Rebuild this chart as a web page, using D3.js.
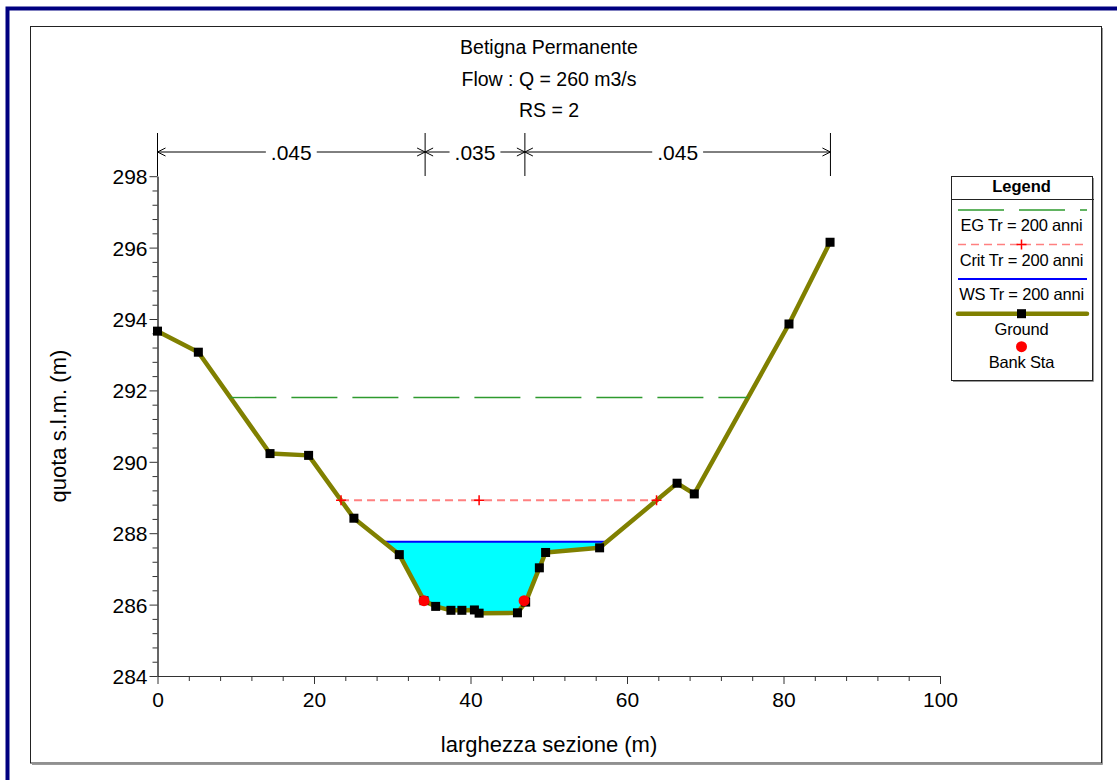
<!DOCTYPE html>
<html>
<head>
<meta charset="utf-8">
<script src="https://cdn.jsdelivr.net/npm/d3@7"></script>
<style>
  html, body { margin: 0; padding: 0; background: #fff; }
  svg { display: block; }
  text { font-family: "Liberation Sans", Arial, sans-serif; fill: #000; }
</style>
</head>
<body>
<svg id="chart" width="1117" height="780"></svg>
<script>
// ---------------- DATA ----------------
const titleLines = ["Betigna Permanente", "Flow : Q = 260 m3/s", "RS = 2"];
const xLabel = "larghezza sezione (m)";
const yLabel = "quota s.l.m. (m)";

const groundStations = [0, 5.22, 14.38, 19.31, 25.1, 30.9, 34.06, 35.55, 37.5, 38.9, 40.5, 41.1, 46.0, 47.05, 48.8, 49.6, 56.5, 66.4, 68.6, 80.7, 85.95];
const groundElevations = [293.66, 293.07, 290.23, 290.18, 288.42, 287.40, 286.11, 285.95, 285.84, 285.84, 285.85, 285.76, 285.77, 286.07, 287.03, 287.46, 287.59, 289.40, 289.10, 293.86, 296.15];

const bankStations = [34.06, 46.85];
const bankElevations = [286.11, 286.11];

const wsElevation = 287.76;    // WS Tr = 200 anni
const egElevation = 291.80;    // EG Tr = 200 anni
const critElevation = 288.92;  // Crit Tr = 200 anni

const manningValues = [".045", ".035", ".045"];
const manningBounds = [0, 34.2, 46.95, 86.0];

const xTicks = [0, 20, 40, 60, 80, 100];
const yTicks = [284, 286, 288, 290, 292, 294, 296, 298];

const legendItems = ["EG Tr = 200 anni", "Crit Tr = 200 anni", "WS Tr = 200 anni", "Ground", "Bank Sta"];

// ---------------- SETUP ----------------
const svg = d3.select("#chart");
svg.append("rect").attr("width", 1117).attr("height", 780).attr("fill", "#fff");

// outer blue frame (top + left)
svg.append("path")
  .attr("d", "M7.5,780 L7.5,8.5 L1117,8.5")
  .attr("fill", "none").attr("stroke", "#000080").attr("stroke-width", 4);

// inner frame with shadow
svg.append("path").attr("d", "M32,764.5 L1102.5,764.5 L1102.5,28")
  .attr("fill", "none").attr("stroke", "#9a9a9a").attr("stroke-width", 1);
svg.append("rect").attr("x", 30.5).attr("y", 26.5).attr("width", 1071).attr("height", 736.5)
  .attr("fill", "none").attr("stroke", "#222").attr("stroke-width", 1);

const x = d3.scaleLinear().domain([0, 100]).range([157.5, 940]);
const y = d3.scaleLinear().domain([284, 298]).range([676, 176.2]);

const ground = groundStations.map((s, i) => ({ s, z: groundElevations[i] }));

// intersections of a horizontal level with the ground, walking out from thalweg
function levelExtent(level) {
  let iMin = d3.minIndex(ground, d => d.z);
  let i = iMin;
  while (i > 0 && ground[i - 1].z < level) i--;
  const a = ground[i - 1], b = ground[i];
  const left = a.s + (a.z - level) / (a.z - b.z) * (b.s - a.s);
  let j = iMin;
  while (j < ground.length - 1 && ground[j + 1].z < level) j++;
  const c = ground[j], d = ground[j + 1];
  const right = c.s + (level - c.z) / (d.z - c.z) * (d.s - c.s);
  return { left, right, i, j, iMin };
}

// ---------------- TITLE ----------------
const titleG = svg.append("g");
titleLines.forEach((t, k) => {
  titleG.append("text")
    .attr("x", 549).attr("y", 54 + k * 31.5)
    .attr("text-anchor", "middle")
    .attr("font-size", 19.5)
    .text(t);
});

// ---------------- AXES ----------------
const axisColor = "#333";
const xMinor = d3.range(0, 26).map(i => i * 4).filter(v => v % 20 !== 0);
const yMinor = d3.range(0, 36).map(i => +(284 + i * 0.4).toFixed(1)).filter(v => Math.abs(v / 2 - Math.round(v / 2)) > 1e-6);

const gx = svg.append("g").attr("transform", `translate(0,${y(284)})`);
gx.call(d3.axisBottom(x).tickValues(xMinor).tickSize(5).tickSizeOuter(0).tickFormat(""));
const gx2 = svg.append("g").attr("transform", `translate(0,${y(284)})`);
gx2.call(d3.axisBottom(x).tickValues(xTicks).tickSize(8).tickSizeOuter(0).tickFormat(d3.format("d")).tickPadding(6));
[gx, gx2].forEach(g => {
  g.select(".domain").attr("stroke", axisColor);
  g.selectAll(".tick line").attr("stroke", axisColor);
});
gx2.selectAll("text").attr("font-size", 21).attr("font-family", "Liberation Sans, Arial, sans-serif").attr("fill", "#000")
  .attr("dy", null).attr("y", 31);

const gy = svg.append("g").attr("transform", `translate(${x(0)},0)`);
gy.call(d3.axisLeft(y).tickValues(yMinor).tickSize(5).tickSizeOuter(0).tickFormat(""));
const gy2 = svg.append("g").attr("transform", `translate(${x(0)},0)`);
gy2.call(d3.axisLeft(y).tickValues(yTicks).tickSize(8).tickSizeOuter(0).tickFormat(d3.format("d")).tickPadding(2));
[gy, gy2].forEach(g => {
  g.select(".domain").attr("stroke", axisColor);
  g.selectAll(".tick line").attr("stroke", axisColor);
});
gy2.selectAll("text").attr("font-size", 21).attr("font-family", "Liberation Sans, Arial, sans-serif").attr("fill", "#000")
  .attr("dy", "0.36em");

svg.append("text").attr("x", 549).attr("y", 752)
  .attr("text-anchor", "middle").attr("font-size", 22).text(xLabel);
svg.append("text")
  .attr("transform", `translate(66,${(y(284) + y(298)) / 2}) rotate(-90)`)
  .attr("text-anchor", "middle").attr("font-size", 22).text(yLabel);

// ---------------- MANNING n ----------------
const nG = svg.append("g").attr("stroke", "#000").attr("stroke-width", 1).attr("fill", "none");
const nY = 152;
manningBounds.forEach(b => {
  nG.append("line").attr("x1", x(b)).attr("x2", x(b)).attr("y1", 133).attr("y2", 176);
});
manningValues.forEach((v, k) => {
  const x0 = x(manningBounds[k]), x1 = x(manningBounds[k + 1]);
  const cx = (x0 + x1) / 2;
  const t = svg.append("text").attr("x", cx).attr("y", nY + 7.5)
    .attr("text-anchor", "middle").attr("font-size", 21).text(v);
  const w = t.node().getComputedTextLength();
  nG.append("line").attr("x1", x0).attr("x2", cx - w / 2 - 5).attr("y1", nY).attr("y2", nY);
  nG.append("line").attr("x1", cx + w / 2 + 5).attr("x2", x1).attr("y1", nY).attr("y2", nY);
  nG.append("path").attr("d", `M${x0 + 8},${nY - 4} L${x0},${nY} L${x0 + 8},${nY + 4}`);
  nG.append("path").attr("d", `M${x1 - 8},${nY - 4} L${x1},${nY} L${x1 - 8},${nY + 4}`);
});

// ---------------- WATER ----------------
const ws = levelExtent(wsElevation);
const waterPts = [[ws.left, wsElevation]]
  .concat(ground.slice(ws.i, ws.j + 1).map(d => [d.s, d.z]))
  .concat([[ws.right, wsElevation]]);
svg.append("path")
  .attr("d", d3.line().x(d => x(d[0])).y(d => y(d[1]))(waterPts) + "Z")
  .attr("fill", "#00ffff").attr("stroke", "none");
svg.append("line")
  .attr("x1", x(ws.left)).attr("x2", x(ws.right))
  .attr("y1", y(wsElevation)).attr("y2", y(wsElevation))
  .attr("stroke", "#0000ff").attr("stroke-width", 2);

// ---------------- GROUND ----------------
svg.append("path")
  .attr("d", d3.line().x(d => x(d.s)).y(d => y(d.z))(ground))
  .attr("fill", "none").attr("stroke", "#808000").attr("stroke-width", 4.5)
  .attr("stroke-linejoin", "round");

// EG line
const eg = levelExtent(egElevation);
svg.append("line")
  .attr("x1", x(eg.left)).attr("x2", x(eg.right))
  .attr("y1", y(egElevation)).attr("y2", y(egElevation))
  .attr("stroke", "#2e9a2e").attr("stroke-width", 1.4).attr("stroke-dasharray", "46,15");

// Crit line
const cr = levelExtent(critElevation);
svg.append("line")
  .attr("x1", x(cr.left)).attr("x2", x(cr.right))
  .attr("y1", y(critElevation)).attr("y2", y(critElevation))
  .attr("stroke", "#ff8080").attr("stroke-width", 2).attr("stroke-dasharray", "8,5");
const critMarks = [cr.left, ground[cr.iMin].s, cr.right];
svg.append("g").selectAll("path").data(critMarks).join("path")
  .attr("d", s => `M${x(s) - 5},${y(critElevation)} h10 M${x(s)},${y(critElevation) - 5} v10`)
  .attr("stroke", "#ff0000").attr("stroke-width", 1.5);

// ground squares
svg.append("g").selectAll("rect").data(ground).join("rect")
  .attr("x", d => x(d.s) - 4.5).attr("y", d => y(d.z) - 4.5)
  .attr("width", 9).attr("height", 9).attr("fill", "#000");

// bank stations
svg.append("g").selectAll("circle").data(bankStations).join("circle")
  .attr("cx", s => x(s)).attr("cy", (s, i) => y(bankElevations[i]))
  .attr("r", 5.5).attr("fill", "#ff0000");

// ---------------- LEGEND ----------------
const lg = svg.append("g");
const lx0 = 951, lx1 = 1092, ly0 = 176, ly1 = 380;
lg.append("path").attr("d", `M${lx1 + 1.5},${ly0 + 2} V${ly1 + 1.5} H${lx0 + 2}`)
  .attr("fill", "none").attr("stroke", "#999");
lg.append("rect").attr("x", lx0 + 0.5).attr("y", ly0 + 0.5).attr("width", lx1 - lx0).attr("height", ly1 - ly0)
  .attr("fill", "#fff").attr("stroke", "#222");
lg.append("line").attr("x1", lx0).attr("x2", lx1 + 2).attr("y1", 199.5).attr("y2", 199.5).attr("stroke", "#222");
const lcx = (lx0 + lx1) / 2;
lg.append("text").attr("x", lcx).attr("y", 191.5).attr("text-anchor", "middle")
  .attr("font-size", 16.5).attr("font-weight", "bold").text("Legend");
const sx0 = 958, sx1 = 1087;
// EG
lg.append("line").attr("x1", sx0).attr("x2", sx1).attr("y1", 210).attr("y2", 210)
  .attr("stroke", "#2e9a2e").attr("stroke-width", 1.4).attr("stroke-dasharray", "46,15");
// Crit
lg.append("line").attr("x1", sx0).attr("x2", sx1).attr("y1", 244.5).attr("y2", 244.5)
  .attr("stroke", "#ff8080").attr("stroke-width", 1.5).attr("stroke-dasharray", "8,5");
lg.append("path").attr("d", `M${lcx - 5},244.5 h10 M${lcx},239.5 v10`).attr("stroke", "#ff0000").attr("stroke-width", 1.5);
// WS
lg.append("line").attr("x1", sx0).attr("x2", sx1).attr("y1", 279).attr("y2", 279)
  .attr("stroke", "#0000ff").attr("stroke-width", 2);
// Ground
lg.append("line").attr("x1", sx0).attr("x2", sx1).attr("y1", 313.7).attr("y2", 313.7)
  .attr("stroke", "#808000").attr("stroke-width", 4.5).attr("stroke-linecap", "round");
lg.append("rect").attr("x", lcx - 4.5).attr("y", 309.2).attr("width", 9).attr("height", 9).attr("fill", "#000");
// Bank
lg.append("circle").attr("cx", lcx).attr("cy", 346.7).attr("r", 5.5).attr("fill", "#ff0000");

const legendTextY = [231, 265.5, 300, 334.5, 368];
legendItems.forEach((t, k) => {
  lg.append("text").attr("x", lcx).attr("y", legendTextY[k]).attr("text-anchor", "middle")
    .attr("font-size", 16.5).attr("letter-spacing", -0.2).text(t);
});
</script>
</body>
</html>
